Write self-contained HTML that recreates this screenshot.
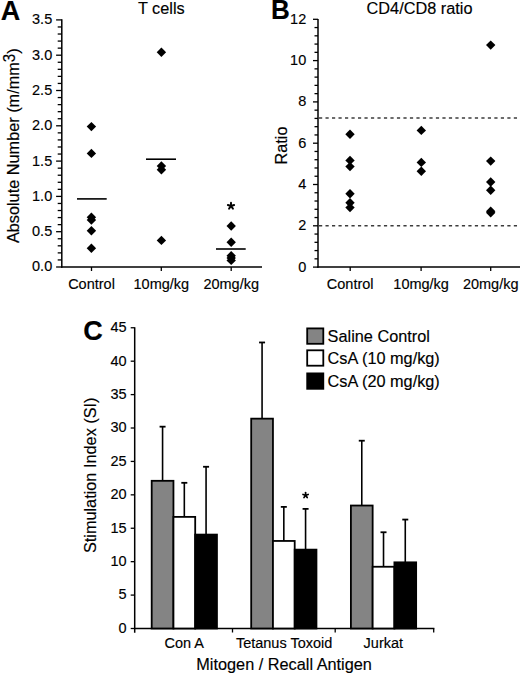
<!DOCTYPE html>
<html><head><meta charset="utf-8"><style>
html,body{margin:0;padding:0;background:#fff;}
body{width:520px;height:675px;overflow:hidden;}
svg{display:block;}
text{font-family:"Liberation Sans", sans-serif;fill:#000;stroke:#000;stroke-width:0.15px;}
</style></head><body>
<svg width="520" height="675" viewBox="0 0 520 675">
<rect width="520" height="675" fill="#fff"/>
<text transform="translate(0.80,19.80) scale(1,1.04)" font-size="27" text-anchor="start" font-weight="bold" >A</text>
<text transform="translate(161.30,13.80) scale(1,1.0)" font-size="16.3" text-anchor="middle" font-weight="normal" >T cells</text>
<line x1="61.80" y1="19.30" x2="61.80" y2="267.70" stroke="#000" stroke-width="1.5" />
<line x1="56.10" y1="267.00" x2="61.80" y2="267.00" stroke="#000" stroke-width="1.3" />
<text transform="translate(52.20,271.40) scale(1,1.04)" font-size="14.5" text-anchor="end" font-weight="normal" >0.0</text>
<line x1="57.70" y1="259.94" x2="61.80" y2="259.94" stroke="#000" stroke-width="1.3" />
<line x1="57.70" y1="252.88" x2="61.80" y2="252.88" stroke="#000" stroke-width="1.3" />
<line x1="57.70" y1="245.82" x2="61.80" y2="245.82" stroke="#000" stroke-width="1.3" />
<line x1="57.70" y1="238.76" x2="61.80" y2="238.76" stroke="#000" stroke-width="1.3" />
<line x1="56.10" y1="231.70" x2="61.80" y2="231.70" stroke="#000" stroke-width="1.3" />
<text transform="translate(52.20,236.10) scale(1,1.04)" font-size="14.5" text-anchor="end" font-weight="normal" >0.5</text>
<line x1="57.70" y1="224.64" x2="61.80" y2="224.64" stroke="#000" stroke-width="1.3" />
<line x1="57.70" y1="217.58" x2="61.80" y2="217.58" stroke="#000" stroke-width="1.3" />
<line x1="57.70" y1="210.52" x2="61.80" y2="210.52" stroke="#000" stroke-width="1.3" />
<line x1="57.70" y1="203.46" x2="61.80" y2="203.46" stroke="#000" stroke-width="1.3" />
<line x1="56.10" y1="196.40" x2="61.80" y2="196.40" stroke="#000" stroke-width="1.3" />
<text transform="translate(52.20,200.80) scale(1,1.04)" font-size="14.5" text-anchor="end" font-weight="normal" >1.0</text>
<line x1="57.70" y1="189.34" x2="61.80" y2="189.34" stroke="#000" stroke-width="1.3" />
<line x1="57.70" y1="182.28" x2="61.80" y2="182.28" stroke="#000" stroke-width="1.3" />
<line x1="57.70" y1="175.22" x2="61.80" y2="175.22" stroke="#000" stroke-width="1.3" />
<line x1="57.70" y1="168.16" x2="61.80" y2="168.16" stroke="#000" stroke-width="1.3" />
<line x1="56.10" y1="161.10" x2="61.80" y2="161.10" stroke="#000" stroke-width="1.3" />
<text transform="translate(52.20,165.50) scale(1,1.04)" font-size="14.5" text-anchor="end" font-weight="normal" >1.5</text>
<line x1="57.70" y1="154.04" x2="61.80" y2="154.04" stroke="#000" stroke-width="1.3" />
<line x1="57.70" y1="146.98" x2="61.80" y2="146.98" stroke="#000" stroke-width="1.3" />
<line x1="57.70" y1="139.92" x2="61.80" y2="139.92" stroke="#000" stroke-width="1.3" />
<line x1="57.70" y1="132.86" x2="61.80" y2="132.86" stroke="#000" stroke-width="1.3" />
<line x1="56.10" y1="125.80" x2="61.80" y2="125.80" stroke="#000" stroke-width="1.3" />
<text transform="translate(52.20,130.20) scale(1,1.04)" font-size="14.5" text-anchor="end" font-weight="normal" >2.0</text>
<line x1="57.70" y1="118.74" x2="61.80" y2="118.74" stroke="#000" stroke-width="1.3" />
<line x1="57.70" y1="111.68" x2="61.80" y2="111.68" stroke="#000" stroke-width="1.3" />
<line x1="57.70" y1="104.62" x2="61.80" y2="104.62" stroke="#000" stroke-width="1.3" />
<line x1="57.70" y1="97.56" x2="61.80" y2="97.56" stroke="#000" stroke-width="1.3" />
<line x1="56.10" y1="90.50" x2="61.80" y2="90.50" stroke="#000" stroke-width="1.3" />
<text transform="translate(52.20,94.90) scale(1,1.04)" font-size="14.5" text-anchor="end" font-weight="normal" >2.5</text>
<line x1="57.70" y1="83.44" x2="61.80" y2="83.44" stroke="#000" stroke-width="1.3" />
<line x1="57.70" y1="76.38" x2="61.80" y2="76.38" stroke="#000" stroke-width="1.3" />
<line x1="57.70" y1="69.32" x2="61.80" y2="69.32" stroke="#000" stroke-width="1.3" />
<line x1="57.70" y1="62.26" x2="61.80" y2="62.26" stroke="#000" stroke-width="1.3" />
<line x1="56.10" y1="55.20" x2="61.80" y2="55.20" stroke="#000" stroke-width="1.3" />
<text transform="translate(52.20,59.60) scale(1,1.04)" font-size="14.5" text-anchor="end" font-weight="normal" >3.0</text>
<line x1="57.70" y1="48.14" x2="61.80" y2="48.14" stroke="#000" stroke-width="1.3" />
<line x1="57.70" y1="41.08" x2="61.80" y2="41.08" stroke="#000" stroke-width="1.3" />
<line x1="57.70" y1="34.02" x2="61.80" y2="34.02" stroke="#000" stroke-width="1.3" />
<line x1="57.70" y1="26.96" x2="61.80" y2="26.96" stroke="#000" stroke-width="1.3" />
<line x1="56.10" y1="19.90" x2="61.80" y2="19.90" stroke="#000" stroke-width="1.3" />
<text transform="translate(52.20,24.30) scale(1,1.04)" font-size="14.5" text-anchor="end" font-weight="normal" >3.5</text>
<line x1="61.10" y1="267.00" x2="262.00" y2="267.00" stroke="#000" stroke-width="1.5" />
<line x1="91.50" y1="267.00" x2="91.50" y2="271.00" stroke="#000" stroke-width="1.3" />
<text transform="translate(91.50,288.70) scale(1,1.04)" font-size="14.5" text-anchor="middle" font-weight="normal" >Control</text>
<line x1="161.30" y1="267.00" x2="161.30" y2="271.00" stroke="#000" stroke-width="1.3" />
<text transform="translate(161.30,288.70) scale(1,1.04)" font-size="14.5" text-anchor="middle" font-weight="normal" >10mg/kg</text>
<line x1="231.20" y1="267.00" x2="231.20" y2="271.00" stroke="#000" stroke-width="1.3" />
<text transform="translate(231.20,288.70) scale(1,1.04)" font-size="14.5" text-anchor="middle" font-weight="normal" >20mg/kg</text>
<path d="M91.40 121.90L96.10 126.60L91.40 131.30L86.70 126.60Z" fill="#000"/>
<path d="M91.40 148.70L96.10 153.40L91.40 158.10L86.70 153.40Z" fill="#000"/>
<path d="M91.40 212.60L96.10 217.30L91.40 222.00L86.70 217.30Z" fill="#000"/>
<path d="M91.40 215.30L96.10 220.00L91.40 224.70L86.70 220.00Z" fill="#000"/>
<path d="M91.40 226.00L96.10 230.70L91.40 235.40L86.70 230.70Z" fill="#000"/>
<path d="M91.40 243.50L96.10 248.20L91.40 252.90L86.70 248.20Z" fill="#000"/>
<line x1="77.00" y1="198.90" x2="106.70" y2="198.90" stroke="#000" stroke-width="1.6" />
<path d="M161.40 47.60L166.10 52.30L161.40 57.00L156.70 52.30Z" fill="#000"/>
<path d="M161.40 161.30L166.10 166.00L161.40 170.70L156.70 166.00Z" fill="#000"/>
<path d="M161.40 165.00L166.10 169.70L161.40 174.40L156.70 169.70Z" fill="#000"/>
<path d="M161.40 235.70L166.10 240.40L161.40 245.10L156.70 240.40Z" fill="#000"/>
<line x1="146.00" y1="159.20" x2="176.00" y2="159.20" stroke="#000" stroke-width="1.6" />
<path d="M231.20 221.30L235.90 226.00L231.20 230.70L226.50 226.00Z" fill="#000"/>
<path d="M231.20 237.50L235.90 242.20L231.20 246.90L226.50 242.20Z" fill="#000"/>
<path d="M231.20 251.00L235.90 255.70L231.20 260.40L226.50 255.70Z" fill="#000"/>
<path d="M231.20 253.30L235.90 258.00L231.20 262.70L226.50 258.00Z" fill="#000"/>
<path d="M231.20 255.70L235.90 260.40L231.20 265.10L226.50 260.40Z" fill="#000"/>
<line x1="216.00" y1="249.00" x2="245.70" y2="249.00" stroke="#000" stroke-width="1.6" />
<line x1="231.00" y1="206.00" x2="231.00" y2="202.70" stroke="#000" stroke-width="1.9" stroke-linecap="round"/>
<line x1="231.00" y1="206.00" x2="234.14" y2="204.98" stroke="#000" stroke-width="1.9" stroke-linecap="round"/>
<line x1="231.00" y1="206.00" x2="232.94" y2="208.67" stroke="#000" stroke-width="1.9" stroke-linecap="round"/>
<line x1="231.00" y1="206.00" x2="229.06" y2="208.67" stroke="#000" stroke-width="1.9" stroke-linecap="round"/>
<line x1="231.00" y1="206.00" x2="227.86" y2="204.98" stroke="#000" stroke-width="1.9" stroke-linecap="round"/>
<text transform="translate(19,145.7) rotate(-90) scale(1,1.04)" font-size="16.3" text-anchor="middle">Absolute Number (m/mm<tspan font-size="15.2" dy="-3.6">3</tspan><tspan dy="3.6">)</tspan></text>
<text transform="translate(271.00,18.80) scale(1,1.04)" font-size="26" text-anchor="start" font-weight="bold" >B</text>
<text transform="translate(419.50,13.90) scale(1,0.98)" font-size="16.3" text-anchor="middle" font-weight="normal" >CD4/CD8 ratio</text>
<line x1="318.00" y1="19.00" x2="318.00" y2="267.80" stroke="#000" stroke-width="1.5" />
<line x1="313.00" y1="267.10" x2="318.00" y2="267.10" stroke="#000" stroke-width="1.3" />
<text transform="translate(306.20,271.50) scale(1,1.04)" font-size="14.5" text-anchor="end" font-weight="normal" >0</text>
<line x1="314.50" y1="258.84" x2="318.00" y2="258.84" stroke="#000" stroke-width="1.3" />
<line x1="314.50" y1="250.58" x2="318.00" y2="250.58" stroke="#000" stroke-width="1.3" />
<line x1="314.50" y1="242.32" x2="318.00" y2="242.32" stroke="#000" stroke-width="1.3" />
<line x1="314.50" y1="234.06" x2="318.00" y2="234.06" stroke="#000" stroke-width="1.3" />
<line x1="313.00" y1="225.80" x2="318.00" y2="225.80" stroke="#000" stroke-width="1.3" />
<text transform="translate(306.20,230.20) scale(1,1.04)" font-size="14.5" text-anchor="end" font-weight="normal" >2</text>
<line x1="314.50" y1="217.54" x2="318.00" y2="217.54" stroke="#000" stroke-width="1.3" />
<line x1="314.50" y1="209.28" x2="318.00" y2="209.28" stroke="#000" stroke-width="1.3" />
<line x1="314.50" y1="201.02" x2="318.00" y2="201.02" stroke="#000" stroke-width="1.3" />
<line x1="314.50" y1="192.76" x2="318.00" y2="192.76" stroke="#000" stroke-width="1.3" />
<line x1="313.00" y1="184.50" x2="318.00" y2="184.50" stroke="#000" stroke-width="1.3" />
<text transform="translate(306.20,188.90) scale(1,1.04)" font-size="14.5" text-anchor="end" font-weight="normal" >4</text>
<line x1="314.50" y1="176.24" x2="318.00" y2="176.24" stroke="#000" stroke-width="1.3" />
<line x1="314.50" y1="167.98" x2="318.00" y2="167.98" stroke="#000" stroke-width="1.3" />
<line x1="314.50" y1="159.72" x2="318.00" y2="159.72" stroke="#000" stroke-width="1.3" />
<line x1="314.50" y1="151.46" x2="318.00" y2="151.46" stroke="#000" stroke-width="1.3" />
<line x1="313.00" y1="143.20" x2="318.00" y2="143.20" stroke="#000" stroke-width="1.3" />
<text transform="translate(306.20,147.60) scale(1,1.04)" font-size="14.5" text-anchor="end" font-weight="normal" >6</text>
<line x1="314.50" y1="134.94" x2="318.00" y2="134.94" stroke="#000" stroke-width="1.3" />
<line x1="314.50" y1="126.68" x2="318.00" y2="126.68" stroke="#000" stroke-width="1.3" />
<line x1="314.50" y1="118.42" x2="318.00" y2="118.42" stroke="#000" stroke-width="1.3" />
<line x1="314.50" y1="110.16" x2="318.00" y2="110.16" stroke="#000" stroke-width="1.3" />
<line x1="313.00" y1="101.90" x2="318.00" y2="101.90" stroke="#000" stroke-width="1.3" />
<text transform="translate(306.20,106.30) scale(1,1.04)" font-size="14.5" text-anchor="end" font-weight="normal" >8</text>
<line x1="314.50" y1="93.64" x2="318.00" y2="93.64" stroke="#000" stroke-width="1.3" />
<line x1="314.50" y1="85.38" x2="318.00" y2="85.38" stroke="#000" stroke-width="1.3" />
<line x1="314.50" y1="77.12" x2="318.00" y2="77.12" stroke="#000" stroke-width="1.3" />
<line x1="314.50" y1="68.86" x2="318.00" y2="68.86" stroke="#000" stroke-width="1.3" />
<line x1="313.00" y1="60.60" x2="318.00" y2="60.60" stroke="#000" stroke-width="1.3" />
<text transform="translate(306.20,65.00) scale(1,1.04)" font-size="14.5" text-anchor="end" font-weight="normal" >10</text>
<line x1="314.50" y1="52.34" x2="318.00" y2="52.34" stroke="#000" stroke-width="1.3" />
<line x1="314.50" y1="44.08" x2="318.00" y2="44.08" stroke="#000" stroke-width="1.3" />
<line x1="314.50" y1="35.82" x2="318.00" y2="35.82" stroke="#000" stroke-width="1.3" />
<line x1="314.50" y1="27.56" x2="318.00" y2="27.56" stroke="#000" stroke-width="1.3" />
<line x1="313.00" y1="19.30" x2="318.00" y2="19.30" stroke="#000" stroke-width="1.3" />
<text transform="translate(306.20,23.70) scale(1,1.04)" font-size="14.5" text-anchor="end" font-weight="normal" >12</text>
<line x1="317.30" y1="267.10" x2="520.00" y2="267.10" stroke="#000" stroke-width="1.5" />
<line x1="350.20" y1="267.10" x2="350.20" y2="271.00" stroke="#000" stroke-width="1.3" />
<text transform="translate(350.20,288.70) scale(1,1.04)" font-size="14.5" text-anchor="middle" font-weight="normal" >Control</text>
<line x1="421.10" y1="267.10" x2="421.10" y2="271.00" stroke="#000" stroke-width="1.3" />
<text transform="translate(421.10,288.70) scale(1,1.04)" font-size="14.5" text-anchor="middle" font-weight="normal" >10mg/kg</text>
<line x1="490.70" y1="267.10" x2="490.70" y2="271.00" stroke="#000" stroke-width="1.3" />
<text transform="translate(490.70,288.70) scale(1,1.04)" font-size="14.5" text-anchor="middle" font-weight="normal" >20mg/kg</text>
<line x1="319.00" y1="118.00" x2="520.00" y2="118.00" stroke="#3c3c3c" stroke-width="1.4" stroke-dasharray="3.2 3.294"/>
<line x1="319.00" y1="225.80" x2="520.00" y2="225.80" stroke="#3c3c3c" stroke-width="1.4" stroke-dasharray="3.2 3.294"/>
<path d="M350.00 129.60L354.70 134.30L350.00 139.00L345.30 134.30Z" fill="#000"/>
<path d="M350.00 155.70L354.70 160.40L350.00 165.10L345.30 160.40Z" fill="#000"/>
<path d="M350.00 161.90L354.70 166.60L350.00 171.30L345.30 166.60Z" fill="#000"/>
<path d="M350.00 189.10L354.70 193.80L350.00 198.50L345.30 193.80Z" fill="#000"/>
<path d="M350.00 198.10L354.70 202.80L350.00 207.50L345.30 202.80Z" fill="#000"/>
<path d="M350.00 202.90L354.70 207.60L350.00 212.30L345.30 207.60Z" fill="#000"/>
<path d="M421.30 125.70L426.00 130.40L421.30 135.10L416.60 130.40Z" fill="#000"/>
<path d="M421.30 157.70L426.00 162.40L421.30 167.10L416.60 162.40Z" fill="#000"/>
<path d="M421.30 166.60L426.00 171.30L421.30 176.00L416.60 171.30Z" fill="#000"/>
<path d="M490.70 40.40L495.40 45.10L490.70 49.80L486.00 45.10Z" fill="#000"/>
<path d="M490.70 156.40L495.40 161.10L490.70 165.80L486.00 161.10Z" fill="#000"/>
<path d="M490.70 177.30L495.40 182.00L490.70 186.70L486.00 182.00Z" fill="#000"/>
<path d="M490.70 185.60L495.40 190.30L490.70 195.00L486.00 190.30Z" fill="#000"/>
<path d="M490.70 206.60L495.40 211.30L490.70 216.00L486.00 211.30Z" fill="#000"/>
<path d="M490.70 208.10L495.40 212.80L490.70 217.50L486.00 212.80Z" fill="#000"/>
<text transform="translate(286.6,145.5) rotate(-90) scale(1,1.04)" font-size="16.3" text-anchor="middle">Ratio</text>
<text transform="translate(83.30,339.70) scale(1,1.04)" font-size="27" text-anchor="start" font-weight="bold" >C</text>
<line x1="134.70" y1="327.20" x2="134.70" y2="632.70" stroke="#000" stroke-width="1.5" />
<line x1="130.70" y1="628.50" x2="134.70" y2="628.50" stroke="#000" stroke-width="1.3" />
<text transform="translate(126.60,632.90) scale(1,1.04)" font-size="14.5" text-anchor="end" font-weight="normal" >0</text>
<line x1="130.70" y1="595.09" x2="134.70" y2="595.09" stroke="#000" stroke-width="1.3" />
<text transform="translate(126.60,599.49) scale(1,1.04)" font-size="14.5" text-anchor="end" font-weight="normal" >5</text>
<line x1="130.70" y1="561.67" x2="134.70" y2="561.67" stroke="#000" stroke-width="1.3" />
<text transform="translate(126.60,566.07) scale(1,1.04)" font-size="14.5" text-anchor="end" font-weight="normal" >10</text>
<line x1="130.70" y1="528.25" x2="134.70" y2="528.25" stroke="#000" stroke-width="1.3" />
<text transform="translate(126.60,532.65) scale(1,1.04)" font-size="14.5" text-anchor="end" font-weight="normal" >15</text>
<line x1="130.70" y1="494.84" x2="134.70" y2="494.84" stroke="#000" stroke-width="1.3" />
<text transform="translate(126.60,499.24) scale(1,1.04)" font-size="14.5" text-anchor="end" font-weight="normal" >20</text>
<line x1="130.70" y1="461.43" x2="134.70" y2="461.43" stroke="#000" stroke-width="1.3" />
<text transform="translate(126.60,465.82) scale(1,1.04)" font-size="14.5" text-anchor="end" font-weight="normal" >25</text>
<line x1="130.70" y1="428.01" x2="134.70" y2="428.01" stroke="#000" stroke-width="1.3" />
<text transform="translate(126.60,432.41) scale(1,1.04)" font-size="14.5" text-anchor="end" font-weight="normal" >30</text>
<line x1="130.70" y1="394.60" x2="134.70" y2="394.60" stroke="#000" stroke-width="1.3" />
<text transform="translate(126.60,399.00) scale(1,1.04)" font-size="14.5" text-anchor="end" font-weight="normal" >35</text>
<line x1="130.70" y1="361.18" x2="134.70" y2="361.18" stroke="#000" stroke-width="1.3" />
<text transform="translate(126.60,365.58) scale(1,1.04)" font-size="14.5" text-anchor="end" font-weight="normal" >40</text>
<line x1="130.70" y1="327.76" x2="134.70" y2="327.76" stroke="#000" stroke-width="1.3" />
<text transform="translate(126.60,332.16) scale(1,1.04)" font-size="14.5" text-anchor="end" font-weight="normal" >45</text>
<line x1="134.00" y1="628.50" x2="434.40" y2="628.50" stroke="#000" stroke-width="1.5" />
<line x1="232.50" y1="628.50" x2="232.50" y2="632.50" stroke="#000" stroke-width="1.3" />
<line x1="335.20" y1="628.50" x2="335.20" y2="632.50" stroke="#000" stroke-width="1.3" />
<line x1="433.70" y1="628.50" x2="433.70" y2="632.50" stroke="#000" stroke-width="1.3" />
<line x1="162.57" y1="426.67" x2="162.57" y2="480.81" stroke="#000" stroke-width="1.6" />
<line x1="159.57" y1="426.67" x2="165.57" y2="426.67" stroke="#000" stroke-width="1.8" />
<rect x="151.70" y="480.81" width="21.75" height="147.69" fill="#848484" stroke="#000" stroke-width="1.8"/>
<line x1="184.32" y1="482.81" x2="184.32" y2="516.89" stroke="#000" stroke-width="1.6" />
<line x1="181.32" y1="482.81" x2="187.32" y2="482.81" stroke="#000" stroke-width="1.8" />
<rect x="173.45" y="516.89" width="21.75" height="111.61" fill="#fff" stroke="#000" stroke-width="1.8"/>
<line x1="206.07" y1="466.77" x2="206.07" y2="534.60" stroke="#000" stroke-width="1.6" />
<line x1="203.07" y1="466.77" x2="209.07" y2="466.77" stroke="#000" stroke-width="1.8" />
<rect x="195.20" y="534.60" width="21.75" height="93.90" fill="#000" stroke="#000" stroke-width="1.8"/>
<line x1="262.07" y1="342.47" x2="262.07" y2="418.65" stroke="#000" stroke-width="1.6" />
<line x1="259.07" y1="342.47" x2="265.07" y2="342.47" stroke="#000" stroke-width="1.8" />
<rect x="251.20" y="418.65" width="21.75" height="209.85" fill="#848484" stroke="#000" stroke-width="1.8"/>
<line x1="283.82" y1="506.87" x2="283.82" y2="540.95" stroke="#000" stroke-width="1.6" />
<line x1="280.82" y1="506.87" x2="286.82" y2="506.87" stroke="#000" stroke-width="1.8" />
<rect x="272.95" y="540.95" width="21.75" height="87.55" fill="#fff" stroke="#000" stroke-width="1.8"/>
<line x1="305.57" y1="508.87" x2="305.57" y2="549.64" stroke="#000" stroke-width="1.6" />
<line x1="302.57" y1="508.87" x2="308.57" y2="508.87" stroke="#000" stroke-width="1.8" />
<rect x="294.70" y="549.64" width="21.75" height="78.86" fill="#000" stroke="#000" stroke-width="1.8"/>
<line x1="361.77" y1="440.71" x2="361.77" y2="505.53" stroke="#000" stroke-width="1.6" />
<line x1="358.77" y1="440.71" x2="364.77" y2="440.71" stroke="#000" stroke-width="1.8" />
<rect x="350.90" y="505.53" width="21.75" height="122.97" fill="#848484" stroke="#000" stroke-width="1.8"/>
<line x1="383.52" y1="532.26" x2="383.52" y2="566.75" stroke="#000" stroke-width="1.6" />
<line x1="380.52" y1="532.26" x2="386.52" y2="532.26" stroke="#000" stroke-width="1.8" />
<rect x="372.65" y="566.75" width="21.75" height="61.75" fill="#fff" stroke="#000" stroke-width="1.8"/>
<line x1="405.27" y1="519.57" x2="405.27" y2="562.34" stroke="#000" stroke-width="1.6" />
<line x1="402.27" y1="519.57" x2="408.27" y2="519.57" stroke="#000" stroke-width="1.8" />
<rect x="394.40" y="562.34" width="21.75" height="66.16" fill="#000" stroke="#000" stroke-width="1.8"/>
<line x1="305.60" y1="495.30" x2="305.60" y2="492.60" stroke="#000" stroke-width="1.7" stroke-linecap="round"/>
<line x1="305.60" y1="495.30" x2="308.17" y2="494.47" stroke="#000" stroke-width="1.7" stroke-linecap="round"/>
<line x1="305.60" y1="495.30" x2="307.19" y2="497.48" stroke="#000" stroke-width="1.7" stroke-linecap="round"/>
<line x1="305.60" y1="495.30" x2="304.01" y2="497.48" stroke="#000" stroke-width="1.7" stroke-linecap="round"/>
<line x1="305.60" y1="495.30" x2="303.03" y2="494.47" stroke="#000" stroke-width="1.7" stroke-linecap="round"/>
<rect x="307.2" y="328.40" width="16.1" height="15.4" fill="#848484" stroke="#000" stroke-width="1.8"/>
<text transform="translate(327.60,341.90) scale(1,1.04)" font-size="16.3" text-anchor="start" font-weight="normal" >Saline Control</text>
<rect x="307.2" y="350.30" width="16.1" height="15.4" fill="#fff" stroke="#000" stroke-width="1.8"/>
<text transform="translate(327.60,363.80) scale(1,1.04)" font-size="16.3" text-anchor="start" font-weight="normal" >CsA (10 mg/kg)</text>
<rect x="307.2" y="373.40" width="16.1" height="15.4" fill="#000" stroke="#000" stroke-width="1.8"/>
<text transform="translate(327.60,386.90) scale(1,1.04)" font-size="16.3" text-anchor="start" font-weight="normal" >CsA (20 mg/kg)</text>
<text transform="translate(184.20,648.40) scale(1,1.04)" font-size="14.5" text-anchor="middle" font-weight="normal" >Con A</text>
<text transform="translate(284.10,648.40) scale(1,1.04)" font-size="14.5" text-anchor="middle" font-weight="normal" >Tetanus Toxoid</text>
<text transform="translate(383.30,648.40) scale(1,1.04)" font-size="14.5" text-anchor="middle" font-weight="normal" >Jurkat</text>
<text transform="translate(284.10,669.50) scale(1,1.04)" font-size="16.3" text-anchor="middle" font-weight="normal" >Mitogen / Recall Antigen</text>
<text transform="translate(96,475.3) rotate(-90) scale(1,1.04)" font-size="16.3" text-anchor="middle">Stimulation Index (SI)</text>
</svg>
</body></html>
